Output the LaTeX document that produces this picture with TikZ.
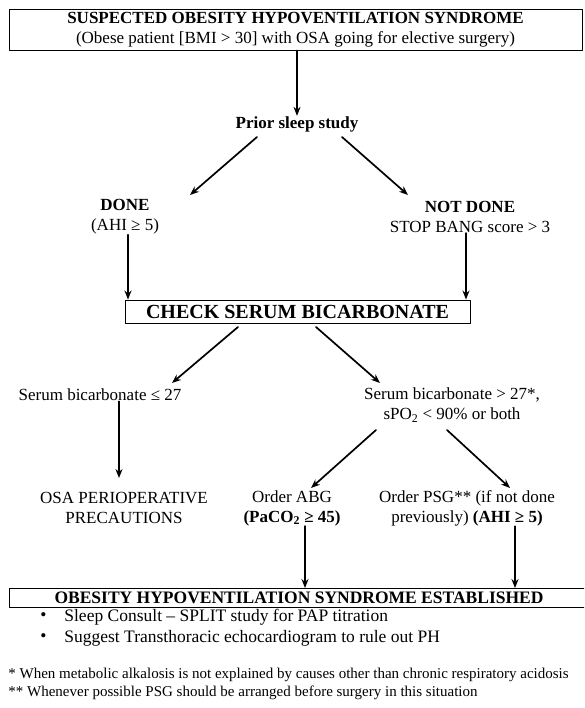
\documentclass[tikz,border=0pt]{standalone}
\usepackage{fontspec}
\setmainfont{Liberation Serif}
\usetikzlibrary{arrows.meta,calc}

\begin{document}
\begin{tikzpicture}[x=1pt,y=-1pt,line join=round,line cap=round,>={Stealth[length=9pt,width=7pt]},thick]
\tikzset{
  box/.style={draw,line width=0.9pt,inner sep=0pt},
  txt/.style={align=center,inner sep=0pt,font=\fontsize{17}{20}\selectfont},
  note/.style={anchor=west,inner sep=0pt,font=\fontsize{15}{18}\selectfont},
  arr/.style={->,line width=1.7pt}
}
\clip (0,0) rectangle (584,708);
% boxes
\node[box,txt,minimum width=573pt,minimum height=41pt] (suspect) at (295.5,29.5)
  {\textbf{SUSPECTED OBESITY HYPOVENTILATION SYNDROME}\\(Obese patient [BMI > 30] with OSA going for elective surgery)};
\node[box,txt,minimum width=345pt,minimum height=23pt,font=\fontsize{20}{22}\selectfont\bfseries] (check) at (297.5,311.5)
  {CHECK SERUM BICARBONATE};
\node[box,txt,minimum width=580pt,minimum height=19pt,font=\fontsize{17.5}{19}\selectfont\bfseries] (ohs) at (299,598)
  {OBESITY HYPOVENTILATION SYNDROME ESTABLISHED};
% text nodes
\node[txt,font=\fontsize{17}{20}\selectfont\bfseries] (prior) at (297,124) {Prior sleep study};
\node[txt] (done) at (125,217) {\textbf{DONE}\\(AHI ≥ 5)};
\node[txt] (notdone) at (470,217) {\textbf{NOT DONE}\\STOP BANG score > 3};
\node[txt] (lowbic) at (100,395) {Serum bicarbonate ≤ 27};
\node[txt] (highbic) at (452,405) {Serum bicarbonate > 27*,\\sPO\textsubscript{2} < 90\% or both};
\node[txt] (osa) at (124,508) {OSA PERIOPERATIVE\\PRECAUTIONS};
\node[txt] (abg) at (292,508) {Order ABG\\\textbf{(PaCO\textsubscript{2} ≥ 45)}};
\node[txt] (psg) at (467,508) {Order PSG** (if not done\\previously) \textbf{(AHI ≥ 5)}};
% list and notes
\foreach \y/\t [count=\n] in {617/Sleep Consult – SPLIT study for PAP titration,
  638/Suggest Transthoracic echocardiogram to rule out PH}{
  \node[note,font=\fontsize{17.5}{19}\selectfont] (dot\n) at (40,\y) {•};
  \node[note,font=\fontsize{17.5}{19}\selectfont] (item\n) at (64,\y) {\t};}
\node[note] (star1) at (8,675) {* When metabolic alkalosis is not explained by causes other than chronic respiratory acidosis};
\node[note] (star2) at (8,693) {** Whenever possible PSG should be arranged before surgery in this situation};
% arrow ends
\coordinate (p1) at (257,137); \coordinate (p2) at (190,195);
\coordinate (p3) at (342,137); \coordinate (p4) at (408,195);
\coordinate (c1) at (238,327); \coordinate (c2) at (172,383);
\coordinate (c3) at (316,327); \coordinate (c4) at (380,383);
\coordinate (h1) at (376,430); \coordinate (h2) at (311,488);
\coordinate (h3) at (447,430); \coordinate (h4) at (510,488);
\coordinate (o1) at (119,478);
% connectors
\draw[arr] (suspect.south -| prior) -- (prior.north);
\draw[arr] (p1) -- (p2);
\draw[arr] (p3) -- (p4);
\draw[arr] (done.south -| 128,0) -- (check.north -| 128,0);
\draw[arr] (notdone.south -| 466,0) -- (check.north -| 466,0);
\draw[arr] (c1) -- (c2);
\draw[arr] (c3) -- (c4);
\draw[arr] (lowbic.south -| o1) -- (o1);
\draw[arr] (h1) -- (h2);
\draw[arr] (h3) -- (h4);
\draw[arr] (abg.south -| 305,0) -- (ohs.north -| 305,0);
\draw[arr] (psg.south -| 515,0) -- (ohs.north -| 515,0);
\end{tikzpicture}
\end{document}
